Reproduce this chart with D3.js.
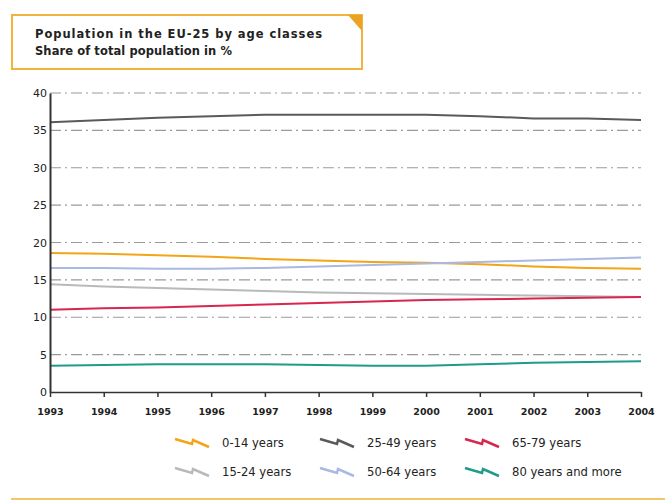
<!DOCTYPE html>
<html><head><meta charset="utf-8">
<script src="https://cdn.jsdelivr.net/npm/d3@7"></script>
<style>body{margin:0;background:#fff;} svg{display:block;}</style>
</head><body>
<div id="chart"></div>
<script>
const years = [1993,1994,1995,1996,1997,1998,1999,2000,2001,2002,2003,2004];
const age0_14  = [18.6,18.5,18.3,18.1,17.8,17.6,17.4,17.3,17.1,16.8,16.6,16.5];
const age15_24 = [14.4,14.1,13.9,13.7,13.5,13.3,13.2,13.1,13.0,12.9,12.8,12.7];
const age25_49 = [36.1,36.4,36.7,36.9,37.1,37.1,37.1,37.1,36.9,36.6,36.6,36.4];
const age50_64 = [16.6,16.6,16.5,16.5,16.6,16.8,17.0,17.2,17.4,17.6,17.8,18.0];
const age65_79 = [11.0,11.2,11.3,11.5,11.7,11.9,12.1,12.3,12.4,12.5,12.6,12.7];
const age80    = [3.5,3.6,3.7,3.7,3.7,3.6,3.5,3.5,3.7,3.9,4.0,4.1];
const yTicks = [0,5,10,15,20,25,30,35,40];
const seriesNames = ["0-14 years","15-24 years","25-49 years","50-64 years","65-79 years","80 years and more"];
const seriesValues = [age0_14, age15_24, age25_49, age50_64, age65_79, age80];
const seriesColors = ["#f2a516","#b9b9b9","#5a5a5a","#a9b9e2","#d8264f","#1f9a8b"];
const titleLines = ["Population in the EU-25 by age classes","Share of total population in %"];

const W=665,H=500;
const svg=d3.select("#chart").append("svg").attr("width",W).attr("height",H)
  .style("font-family","'DejaVu Sans', sans-serif");

// title box
const orange="#f0b43c";
svg.append("rect").attr("x",12).attr("y",15).attr("width",350).attr("height",54)
  .attr("fill","none").attr("stroke",orange).attr("stroke-width",2);
svg.append("path").attr("d","M348,15 L362,15 L362,31 Z").attr("fill","#eba324");
svg.append("text").attr("x",35).attr("y",38).attr("font-size",11.5).attr("font-weight","bold")
  .attr("fill","#222").attr("textLength",287).attr("lengthAdjust","spacing").text(titleLines[0]);
svg.append("text").attr("x",35).attr("y",55).attr("font-size",11.5).attr("font-weight","bold")
  .attr("fill","#222").attr("textLength",197).attr("lengthAdjust","spacing").text(titleLines[1]);

// bottom line
svg.append("line").attr("x1",11).attr("x2",W).attr("y1",499).attr("y2",499)
  .attr("stroke","#f2c66a").attr("stroke-width",2);

const x=d3.scaleLinear().domain([1993,2004]).range([50,641]);
const y=d3.scaleLinear().domain([0,40]).range([392,93]);

// grid
svg.append("g").selectAll("line").data(yTicks.filter(d=>d>0)).join("line")
  .attr("x1",50).attr("x2",641).attr("y1",d=>y(d)).attr("y2",d=>y(d))
  .attr("stroke","#9a9a9a").attr("stroke-width",1.2).attr("stroke-dasharray","11,4,2,4");

// lines
const line=d3.line().x((d,i)=>x(years[i])).y(d=>y(d));
seriesValues.forEach((vals,k)=>{
  svg.append("path").attr("d",line(vals)).attr("fill","none")
    .attr("stroke",seriesColors[k]).attr("stroke-width",2);
});

// axes
const yAxis=svg.append("g").attr("transform","translate(50,0)")
  .call(d3.axisLeft(y).tickValues(yTicks).tickSize(0).tickPadding(3));
yAxis.select(".domain").attr("stroke","#333").attr("stroke-width",2);
yAxis.selectAll("text").attr("font-size",11).attr("fill","#222").attr("font-family","'DejaVu Sans', sans-serif");

const xAxis=svg.append("g").attr("transform","translate(0,392)")
  .call(d3.axisBottom(x).tickValues(years).tickFormat(d3.format("d")).tickSize(5).tickSizeOuter(0).tickPadding(11));
xAxis.select(".domain").attr("stroke","#333").attr("stroke-width",1.6);
xAxis.selectAll(".tick line").attr("stroke","#333").attr("stroke-width",1.5);
xAxis.selectAll("text").attr("font-size",9.5).attr("font-weight","bold").attr("fill","#222").attr("font-family","'DejaVu Sans', sans-serif");

// legend
const legX=[175,320,465], legY=[443,472];
seriesNames.forEach((n,k)=>{
  const col=Math.floor(k/2), row=k%2;
  const g=svg.append("g").attr("transform",`translate(${legX[col]},${legY[row]})`);
  g.append("path").attr("d","M0,-4 L17,1 L18,-3 L34,4").attr("fill","none")
    .attr("stroke",seriesColors[k]).attr("stroke-width",2.5);
  g.append("text").attr("x",47).attr("y",4).attr("font-size",11.6).attr("fill","#222").text(n);
});
</script>
</body></html>
